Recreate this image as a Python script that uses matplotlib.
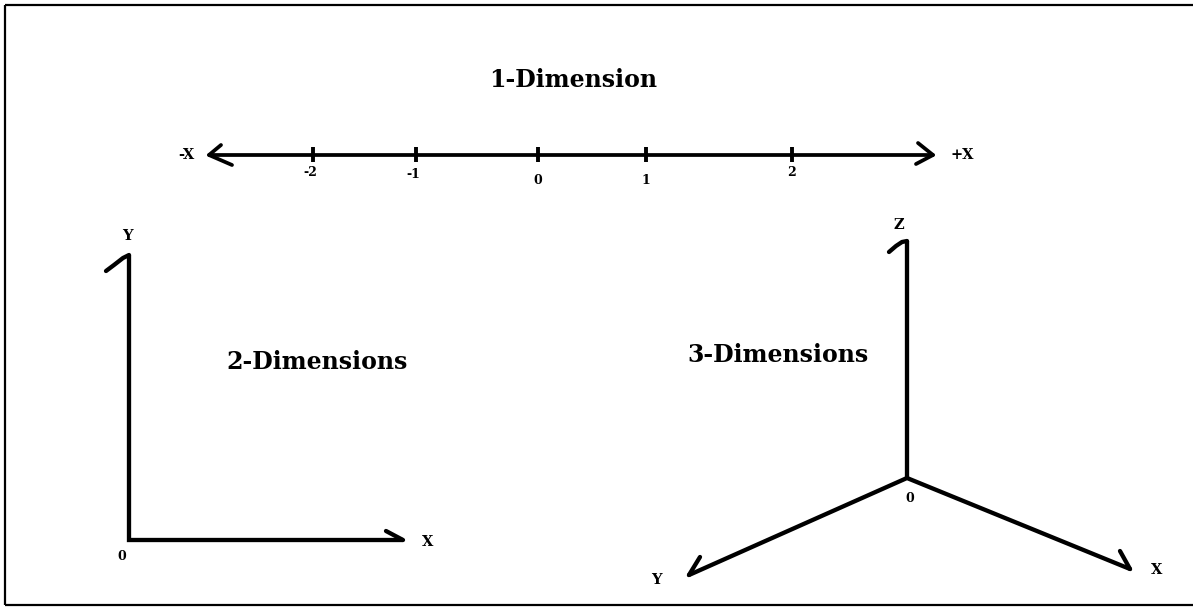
import matplotlib
matplotlib.use("Agg")
import matplotlib.pyplot as plt

# ---- diagram data ----
W, H = 1193, 607
# 1-D number line
tick_values = [-2, -1, 0, 1, 2]
tick_x = [313, 416, 538, 646, 792]
tick_label_y = [173, 175, 180, 181, 172]
line1d_y = 155
line1d_x = [209, 933]
# 2-D axes
origin2d = (129, 540)
y2d_top = 255
x2d_end = 403
# 3-D axes
origin3d = (907, 478)
z3d_top = 241
y3d_tip = (689, 575)
x3d_tip = (1130, 569)

titles = ["1-Dimension", "2-Dimensions", "3-Dimensions"]
title_pos = [(573, 80), (317, 362), (778, 355)]

fig = plt.figure(figsize=(W / 100, H / 100), dpi=100)
ax = fig.add_axes([0, 0, 1, 1])
ax.set_xlim(0, W)
ax.set_ylim(H, 0)
ax.axis("off")

k = "black"
serif = ["DejaVu Serif"]

# border
ax.plot([5, 5], [5, 605], color=k, lw=1.6, solid_capstyle="butt")
ax.plot([5, W + 5], [5, 5], color=k, lw=1.6, solid_capstyle="butt")
ax.plot([5, W + 5], [605, 605], color=k, lw=1.6, solid_capstyle="butt")

# ---- 1-D line ----
lw1 = 2.7
ax.plot(line1d_x, [line1d_y, line1d_y], color=k, lw=lw1, solid_capstyle="round")
# arrow heads
ax.plot([221, line1d_x[0], 232], [145, line1d_y, 165], color=k, lw=lw1,
        solid_capstyle="round", solid_joinstyle="round")
ax.plot([918, line1d_x[1], 916], [143, line1d_y, 164], color=k, lw=lw1,
        solid_capstyle="round", solid_joinstyle="round")
for v, x, ly in zip(tick_values, tick_x, tick_label_y):
    ax.plot([x, x], [147, 162], color=k, lw=2.8, solid_capstyle="butt")
    ax.text(x - 3 if v < 0 else x, ly, str(v), ha="center",
            va="center", fontsize=9, fontweight="bold", family=serif)
ax.text(186, line1d_y, "-X", ha="center", va="center", fontsize=10.5,
        fontweight="bold", family=serif)
ax.text(962, line1d_y, "+X", ha="center", va="center", fontsize=10.5,
        fontweight="bold", family=serif)

# ---- 2-D axes ----
lw2 = 3.1
ox, oy = origin2d
ax.plot([ox, ox, x2d_end], [y2d_top, oy, oy], color=k, lw=lw2,
        solid_capstyle="butt", solid_joinstyle="miter")
ax.plot([106, 114, 123, ox], [271, 265, 258, y2d_top], color=k, lw=lw2,
        solid_capstyle="round", solid_joinstyle="round")
ax.plot([386, x2d_end], [531, oy], color=k, lw=lw2, solid_capstyle="round")
ax.text(127, 236, "Y", ha="center", va="center", fontsize=10.5,
        fontweight="bold", family=serif)
ax.text(428, 542, "X", ha="center", va="center", fontsize=10.5,
        fontweight="bold", family=serif)
ax.text(122, 556, "0", ha="center", va="center", fontsize=9,
        fontweight="bold", family=serif)

# ---- 3-D axes ----
px, py = origin3d
ax.plot([px, px], [z3d_top, py], color=k, lw=lw2, solid_capstyle="butt")
ax.plot([889, 896, 902, px], [252, 246, 242, z3d_top], color=k, lw=lw2,
        solid_capstyle="round", solid_joinstyle="round")
ax.plot([y3d_tip[0], px, x3d_tip[0]], [y3d_tip[1], py, x3d_tip[1]], color=k,
        lw=lw2, solid_capstyle="round", solid_joinstyle="round")
ax.plot([700, y3d_tip[0]], [557, y3d_tip[1]], color=k, lw=lw2,
        solid_capstyle="round")
ax.plot([1120, x3d_tip[0]], [551, x3d_tip[1]], color=k, lw=lw2,
        solid_capstyle="round")
ax.text(899, 225, "Z", ha="center", va="center", fontsize=10.5,
        fontweight="bold", family=serif)
ax.text(910, 498, "0", ha="center", va="center", fontsize=9,
        fontweight="bold", family=serif)
ax.text(656, 580, "Y", ha="center", va="center", fontsize=10.5,
        fontweight="bold", family=serif)
ax.text(1157, 570, "X", ha="center", va="center", fontsize=10.5,
        fontweight="bold", family=serif)

# ---- titles ----
for t, (x, y) in zip(titles, title_pos):
    ax.text(x, y, t, ha="center", va="center", fontsize=17,
            fontweight="bold", family=serif)

fig.savefig("out.png", dpi=100)
